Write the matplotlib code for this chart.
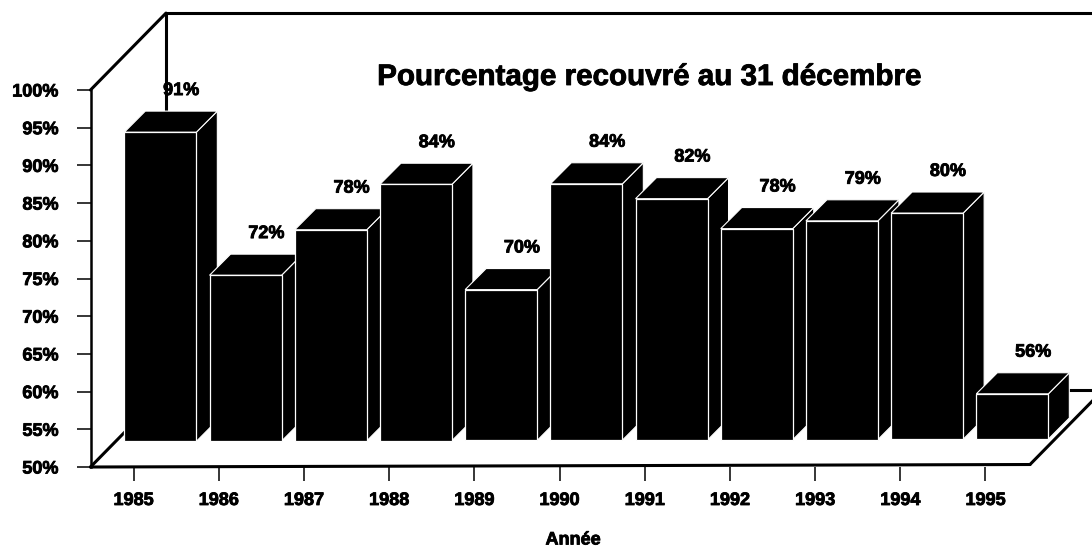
import matplotlib
matplotlib.use("Agg")
import matplotlib.pyplot as plt
from matplotlib.patches import Polygon
import matplotlib.patheffects as pe

years = ["1985", "1986", "1987", "1988", "1989", "1990", "1991", "1992", "1993", "1994", "1995"]
values = [91, 72, 78, 84, 70, 84, 82, 78, 79, 80, 56]
yticks = list(range(50, 101, 5))

W, H = 1092, 549
fig = plt.figure(figsize=(W / 100, H / 100), dpi=100, facecolor="white")
left, right, top, bottom = 90.5, 1030.0, 90.0, 467.0
ax = fig.add_axes([left / W, 1 - bottom / H, (right - left) / W, (bottom - top) / H])
plt.rcParams["font.family"] = ["Liberation Sans", "DejaVu Sans"]
FONT = dict(family="Liberation Sans", weight="bold")
thick = [pe.withStroke(linewidth=0.6, foreground="black")]

xmin, xmax = (left - 133.5) / 85.2, (right - 133.5) / 85.2
ax.set_xlim(xmin, xmax)
ax.set_ylim(50, 100)
ax.patch.set_visible(False)

for s in ("top", "right", "bottom"):
    ax.spines[s].set_visible(False)
ax.spines["left"].set_linewidth(1.8)
ax.set_xticks(range(len(years)), years, fontsize=13, **FONT)
ax.set_yticks(yticks, [f"{t}%" for t in yticks], fontsize=13, **FONT)
ax.tick_params(axis="x", length=10, width=1.1, pad=8)
ax.tick_params(axis="y", length=10, width=1.1, pad=13)
for t in ax.get_xticklabels() + ax.get_yticklabels():
    t.set_path_effects(thick)

# box frame (depth of the 3D floor/walls in data units)
fdx, fdy = 75.5 / 85.2, 10.2
far = xmax + 1.0
frame = dict(color="black", lw=2.2, clip_on=False, zorder=1, solid_capstyle="round")
ax.plot([xmin, xmax], [50, 50.33], **frame)
ax.plot([xmin, xmin + fdx], [50, 50 + fdy], **frame)
ax.plot([xmin, xmin + fdx], [100, 100 + fdy], **frame)
ax.plot([xmin + fdx, far], [100 + fdy, 100 + fdy], **frame)
ax.plot([xmin + fdx, xmin + fdx], [100 + fdy, 50 + fdy], **frame)
ax.plot([xmin + fdx, far], [50 + fdy, 50 + fdy], **frame)
ax.plot([xmax, xmax + fdx], [50.33, 50.33 + fdy], **frame)

# bars
bw = 72 / 85.2
off = 0.315
ddx, ddy = 21 / 85.2, 2.8
for i, v in enumerate(values):
    shift = 3.4 + 0.03 * i
    x0 = i + off - bw / 2
    x1 = x0 + bw
    b0 = 50 + shift
    t0 = v + shift
    edge = dict(facecolor="black", edgecolor="white", lw=0.8, clip_on=False, zorder=3 + i * 0.1)
    ax.add_patch(Polygon([(x1, b0), (x1 + ddx, b0 + ddy), (x1 + ddx, t0 + ddy), (x1, t0)], **edge))
    ax.add_patch(Polygon([(x0, t0), (x1, t0), (x1 + ddx, t0 + ddy), (x0 + ddx, t0 + ddy)], **edge))
    ax.bar(i + off, v - 50, bottom=b0, width=bw, color="black", edgecolor="white", lw=0.9,
           clip_on=False, zorder=3.05 + i * 0.1)
    ax.annotate(f"{v}%", xy=(i + off, t0), xytext=(15, 30), textcoords="offset points",
                ha="center", va="center", fontsize=13, zorder=10, annotation_clip=False,
                path_effects=thick, **FONT)

fig.text(649.5 / W, 1 - 77 / H, "Pourcentage recouvré au 31 décembre", ha="center", va="center",
         fontsize=21.3, path_effects=thick, **FONT)
fig.text(573 / W, 1 - 540 / H, "Année", ha="center", va="center", fontsize=13,
         path_effects=thick, **FONT)

fig.savefig("out.png", dpi=100, facecolor="white")
